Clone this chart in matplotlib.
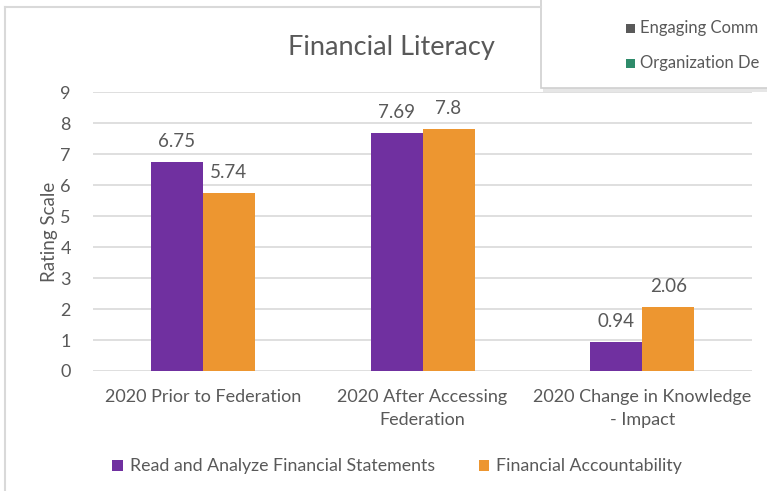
import matplotlib.pyplot as plt
import numpy as np
from matplotlib.patches import Rectangle
from matplotlib.lines import Line2D

plt.rcParams['font.family'] = ['Lato', 'DejaVu Sans']

categories = ['2020 Prior to Federation', '2020 After Accessing\nFederation',
              '2020 Change in Knowledge\n- Impact']
read_analyze = [6.75, 7.69, 0.94]
accountability = [5.74, 7.8, 2.06]
read_labels = ['6.75', '7.69', '0.94']
acc_labels = ['5.74', '7.8', '2.06']
series_names = ['Read and Analyze Financial Statements', 'Financial Accountability']
other_legend = ['Engaging Comm', 'Organization De']

purple = '#7030a0'
orange = '#ed9630'
txt = '#595959'
grid = '#d9d9d9'

fig = plt.figure(figsize=(7.67, 4.91), dpi=100)
ax = fig.add_axes([0.1213, 0.2444, 0.8592, 0.5682])

x = np.arange(len(categories))
w = 0.2367
b1 = ax.bar(x - w / 2, read_analyze, w, color=purple, zorder=3)
b2 = ax.bar(x + w / 2, accountability, w, color=orange, zorder=3)

for bars, labs in ((b1, read_labels), (b2, acc_labels)):
    for r, lab in zip(bars, labs):
        ax.text(r.get_x() + r.get_width() / 2, r.get_height() + 0.38, lab,
                ha='center', va='bottom', fontsize=13.5, color=txt)

ax.set_xlim(-0.5, 2.5)
ax.set_ylim(0, 9)
ax.set_yticks(range(0, 10))
ax.set_xticks(x)
ax.set_xticklabels(categories, linespacing=1.5)
ax.tick_params(length=0, labelsize=13, colors=txt, pad=13)
ax.tick_params(axis='y', pad=16)
ax.grid(axis='y', color=grid, linewidth=1.2, zorder=0)
for s in ax.spines.values():
    s.set_visible(False)
ax.set_ylabel('Rating Scale', fontsize=13.5, color=txt, labelpad=2)

fig.text(0.51, 0.903, 'Financial Literacy', ha='center', va='center',
         fontsize=19.5, color=txt)

# legend at bottom
fig.legend([b1, b2], series_names, loc='center', bbox_to_anchor=(0.518, 0.05),
           ncol=2, frameon=False, fontsize=12.8, labelcolor=txt,
           handlelength=0.6, handleheight=0.6, handletextpad=0.4, columnspacing=2.45)

# chart frame
fig.add_artist(Line2D([5 / 767, 5 / 767], [0, 1 - 7 / 491], color=grid, lw=1.5))
fig.add_artist(Line2D([5 / 767, 541 / 767], [1 - 7 / 491, 1 - 7 / 491], color=grid, lw=1.5))

# overlapping legend box from another chart
fig.add_artist(Rectangle((543 / 767, 1 - 92 / 491), 0.4, 92 / 491,
                         transform=fig.transFigure, facecolor='#e6e6e6', edgecolor='none'))
fig.add_artist(Rectangle((541 / 767, 1 - 88 / 491), 0.4, 0.3,
                         transform=fig.transFigure, facecolor='white', edgecolor='#d0d0d0', lw=1.2))
for i, (name, col) in enumerate(zip(other_legend, ['#595959', '#2e8b6a'])):
    yy = 1 - (28 + 35 * i) / 491
    fig.add_artist(Rectangle((626 / 767, yy - 4.5 / 491), 9 / 767, 9 / 491,
                             transform=fig.transFigure, facecolor=col, edgecolor='none'))
    fig.text(640 / 767, yy, name, ha='left', va='center', fontsize=12, color=txt)

fig.savefig('out.png', dpi=100)
